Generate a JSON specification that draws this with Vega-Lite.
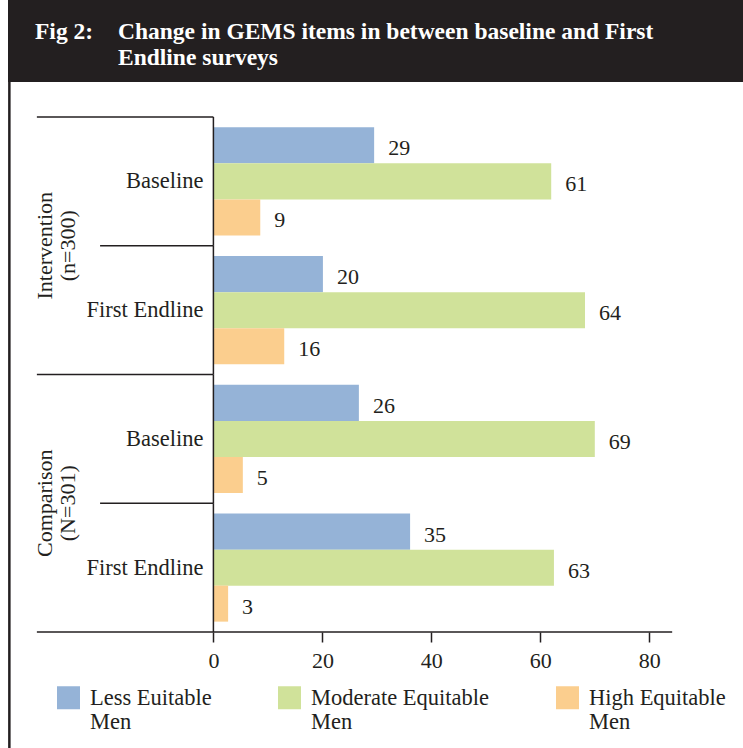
{
  "$schema": "https://vega.github.io/schema/vega-lite/v6.json",
  "padding": {"left": 8, "top": 0, "right": 0, "bottom": 0},
  "background": "white",
  "spacing": 0,
  "bounds": "flush",
  "config": {"view": {"stroke": null}, "font": "Liberation Serif"},
  "vconcat": [
    {
      "width": 735,
      "height": 82,
      "view": {"fill": "#231f20", "stroke": null},
      "data": {"values": [
        {"slot": "num", "txt": ["Fig 2:", ""]},
        {"slot": "title", "txt": ["Change in GEMS items in between baseline and First", "Endline surveys"]}
      ]},
      "mark": {"type": "text", "align": "left", "baseline": "middle", "color": "#ffffff", "font": "Liberation Serif", "fontWeight": "bold", "fontSize": 23.5, "lineHeight": 26, "dy": -9},
      "encoding": {
        "x": {"field": "slot", "type": "nominal", "scale": {"type": "point", "domain": ["num", "title"], "range": [27, 110], "padding": 0}, "axis": null},
        "text": {"field": "txt"}
      }
    },
    {
      "width": 735,
      "height": 666,
      "data": {"values": [
        {"group": "Intervention", "period": "Baseline", "row": "Intervention Baseline", "series": "Less Euitable Men", "pct": 29.5, "label": "29"},
        {"group": "Intervention", "period": "Baseline", "row": "Intervention Baseline", "series": "Moderate Equitable Men", "pct": 62.0, "label": "61"},
        {"group": "Intervention", "period": "Baseline", "row": "Intervention Baseline", "series": "High Equitable Men", "pct": 8.6, "label": "9"},
        {"group": "Intervention", "period": "First Endline", "row": "Intervention First Endline", "series": "Less Euitable Men", "pct": 20.1, "label": "20"},
        {"group": "Intervention", "period": "First Endline", "row": "Intervention First Endline", "series": "Moderate Equitable Men", "pct": 68.2, "label": "64"},
        {"group": "Intervention", "period": "First Endline", "row": "Intervention First Endline", "series": "High Equitable Men", "pct": 13.0, "label": "16"},
        {"group": "Comparison", "period": "Baseline", "row": "Comparison Baseline", "series": "Less Euitable Men", "pct": 26.7, "label": "26"},
        {"group": "Comparison", "period": "Baseline", "row": "Comparison Baseline", "series": "Moderate Equitable Men", "pct": 70.0, "label": "69"},
        {"group": "Comparison", "period": "Baseline", "row": "Comparison Baseline", "series": "High Equitable Men", "pct": 5.4, "label": "5"},
        {"group": "Comparison", "period": "First Endline", "row": "Comparison First Endline", "series": "Less Euitable Men", "pct": 36.1, "label": "35"},
        {"group": "Comparison", "period": "First Endline", "row": "Comparison First Endline", "series": "Moderate Equitable Men", "pct": 62.5, "label": "63"},
        {"group": "Comparison", "period": "First Endline", "row": "Comparison First Endline", "series": "High Equitable Men", "pct": 2.7, "label": "3"}
      ]},
      "layer": [
        {
          "mark": {"type": "bar"},
          "encoding": {
            "y": {"field": "row", "type": "nominal", "sort": null, "axis": null,
                  "scale": {"domain": ["Intervention Baseline", "Intervention First Endline", "Comparison Baseline", "Comparison First Endline"], "paddingInner": 0, "paddingOuter": 0.5864, "align": 0.2318}},
            "yOffset": {"field": "series", "type": "nominal", "sort": null,
                  "scale": {"domain": ["Less Euitable Men", "Moderate Equitable Men", "High Equitable Men"], "paddingInner": 0, "paddingOuter": 0.288}},
            "x": {"field": "pct", "type": "quantitative",
                  "scale": {"domain": [-37.7, 97.2], "nice": false, "zero": false},
                  "axis": {"values": [0, 20, 40, 60, 80], "domain": false, "grid": false, "ticks": true, "tickSize": 10, "tickColor": "#231f20", "tickWidth": 1.5, "labelFont": "Liberation Serif", "labelFontSize": 22, "labelColor": "#231f20", "labelPadding": 8, "title": null, "offset": -116}},
            "color": {"field": "series", "type": "nominal", "sort": null,
                  "scale": {"domain": ["Less Euitable Men", "Moderate Equitable Men", "High Equitable Men"], "range": ["#95B3D7", "#D0E29A", "#FBCE8E"]},
                  "legend": {"orient": "none", "legendX": 49, "legendY": 686, "direction": "horizontal", "columns": 3, "columnPadding": 66, "title": null,
                             "symbolType": "square", "symbolSize": 529, "symbolStrokeWidth": 0, "symbolOpacity": 1,
                             "labelFont": "Liberation Serif", "labelFontSize": 22.5, "labelColor": "#231f20", "labelBaseline": "middle", "labelLineHeight": 28, "labelOffset": 10, "labelLimit": 300,
                             "labelExpr": "[replace(datum.label, ' Men', ''), 'Men']"}}
          }
        },
        {
          "mark": {"type": "text", "align": "left", "baseline": "middle", "dx": 14, "dy": 3, "fontSize": 22, "color": "#231f20", "font": "Liberation Serif"},
          "encoding": {
            "y": {"field": "row", "type": "nominal", "sort": null, "axis": null},
            "yOffset": {"field": "series", "type": "nominal", "sort": null},
            "x": {"field": "pct", "type": "quantitative"},
            "text": {"field": "label", "type": "nominal"}
          }
        },
        {
          "data": {"values": [{"row": "Intervention Baseline"}, {"row": "Comparison Baseline"}]},
          "mark": {"type": "rule", "color": "#231f20", "strokeWidth": 1.5},
          "encoding": {
            "y": {"field": "row", "type": "nominal", "sort": null, "axis": null, "bandPosition": 0},
            "x": {"datum": -32.4},
            "x2": {"datum": 0}
          }
        },
        {
          "data": {"values": [{"row": "Intervention First Endline"}, {"row": "Comparison First Endline"}]},
          "mark": {"type": "rule", "color": "#231f20", "strokeWidth": 1.5},
          "encoding": {
            "y": {"field": "row", "type": "nominal", "sort": null, "axis": null, "bandPosition": 0},
            "x": {"datum": -20.8},
            "x2": {"datum": 0}
          }
        },
        {
          "data": {"values": [{"row": "Comparison First Endline"}]},
          "mark": {"type": "rule", "color": "#231f20", "strokeWidth": 1.5},
          "encoding": {
            "y": {"field": "row", "type": "nominal", "sort": null, "axis": null, "bandPosition": 1},
            "x": {"datum": -32.4},
            "x2": {"datum": 84.2}
          }
        },
        {
          "data": {"values": [{"row": "Intervention Baseline"}, {"row": "Intervention First Endline"}, {"row": "Comparison Baseline"}, {"row": "Comparison First Endline"}]},
          "mark": {"type": "rect", "stroke": "#231f20", "strokeWidth": 1.5, "fillOpacity": 0},
          "encoding": {
            "y": {"field": "row", "type": "nominal", "sort": null, "axis": null},
            "x": {"datum": 0},
            "x2": {"datum": 0}
          }
        },
        {
          "data": {"values": [{"edge": "left"}]},
          "mark": {"type": "rule", "color": "#231f20", "strokeWidth": 2.5},
          "encoding": {
            "x": {"datum": -37.45}
          }
        },
        {
          "data": {"values": [
            {"row": "Intervention First Endline", "glabel": ["Intervention", "(n=300)"]},
            {"row": "Comparison First Endline", "glabel": ["Comparison", "(N=301)"]}
          ]},
          "mark": {"type": "text", "angle": 270, "align": "center", "baseline": "middle", "fontSize": 22, "lineHeight": 23, "color": "#231f20", "font": "Liberation Serif"},
          "encoding": {
            "y": {"field": "row", "type": "nominal", "sort": null, "axis": null, "bandPosition": 0},
            "x": {"datum": -30.9},
            "text": {"field": "glabel"}
          }
        },
        {
          "data": {"values": [
            {"row": "Intervention Baseline", "period": "Baseline"},
            {"row": "Intervention First Endline", "period": "First Endline"},
            {"row": "Comparison Baseline", "period": "Baseline"},
            {"row": "Comparison First Endline", "period": "First Endline"}
          ]},
          "mark": {"type": "text", "align": "right", "baseline": "middle", "dx": -10, "fontSize": 22.5, "color": "#231f20", "font": "Liberation Serif"},
          "encoding": {
            "y": {"field": "row", "type": "nominal", "sort": null, "axis": null},
            "x": {"datum": 0},
            "text": {"field": "period", "type": "nominal"}
          }
        }
      ]
    }
  ]
}
